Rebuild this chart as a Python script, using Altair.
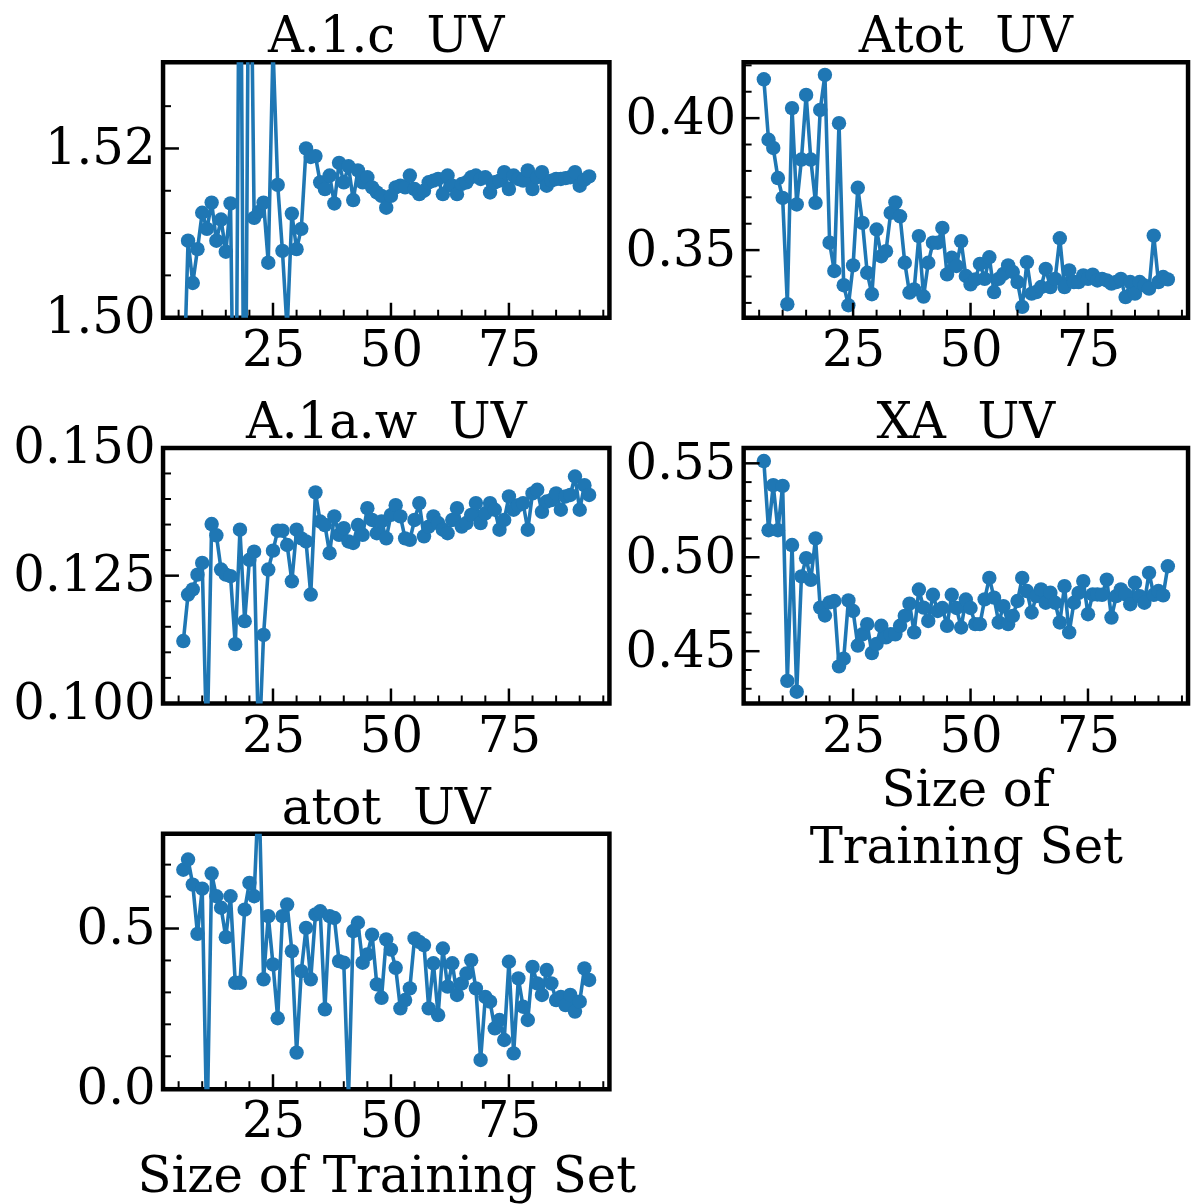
import altair as alt
import pandas as pd

# ---------------- data ----------------
sizes = list(range(6, 93))

a1c_uv = [1.490, 1.5091, 1.5041, 1.5081, 1.5124, 1.5105, 1.5136, 1.5091, 1.5116, 1.5078,
          1.5135, 1.470, 1.560, 1.470, 1.560, 1.5118, 1.5125, 1.5136, 1.5065, 1.5320,
          1.5157, 1.5079, 1.4985, 1.5123, 1.5081, 1.5105, 1.5200, 1.5190, 1.5191, 1.5160,
          1.5152, 1.5168, 1.5135, 1.5183, 1.5160, 1.5179, 1.5139, 1.5174, 1.5160, 1.5166,
          1.5154, 1.5148, 1.5144, 1.5130, 1.5144, 1.5154, 1.5156, 1.5154, 1.5168, 1.5152,
          1.5146, 1.5150, 1.5160, 1.5162, 1.5164, 1.5146, 1.5168, 1.5156, 1.5146, 1.5158,
          1.5160, 1.5166, 1.5168, 1.5164, 1.5166, 1.5148, 1.5160, 1.5162, 1.5172, 1.5152,
          1.5168, 1.5164, 1.5162, 1.5174, 1.5152, 1.5166, 1.5172, 1.5156, 1.5162, 1.5164,
          1.5164, 1.5165, 1.5166, 1.5172, 1.5156, 1.5163, 1.5167]

atot_upper_uv = [0.4147, 0.3918, 0.3887, 0.3773, 0.3698, 0.3295, 0.4038, 0.3673, 0.3843, 0.4088,
                 0.3843, 0.3679, 0.4031, 0.4164, 0.3528, 0.3421, 0.3981, 0.3367, 0.3291, 0.3442,
                 0.3736, 0.3603, 0.3414, 0.3333, 0.3578, 0.3477, 0.3496, 0.3641, 0.3681, 0.3628,
                 0.3452, 0.3339, 0.3351, 0.3553, 0.3324, 0.3452, 0.3528, 0.3528, 0.3584, 0.3408,
                 0.3471, 0.3440, 0.3534, 0.3402, 0.3370, 0.3389, 0.3448, 0.3391, 0.3473, 0.3341,
                 0.3391, 0.3410, 0.3442, 0.3417, 0.3379, 0.3285, 0.3454, 0.3335, 0.3341, 0.3360,
                 0.3429, 0.3360, 0.3391, 0.3545, 0.3360, 0.3423, 0.3379, 0.3379, 0.3404, 0.3391,
                 0.3407, 0.3385, 0.3391, 0.3385, 0.3373, 0.3379, 0.3391, 0.3322, 0.3379, 0.3335,
                 0.3379, 0.3366, 0.3354, 0.3555, 0.3379, 0.3398, 0.3389]

a1aw_uv = [0.1122, 0.1213, 0.1223, 0.1252, 0.1275, 0.0900, 0.1351, 0.1329, 0.1262, 0.1252,
           0.1249, 0.1116, 0.1340, 0.1161, 0.1281, 0.1297, 0.0900, 0.1134, 0.1262, 0.1299,
           0.1338, 0.1338, 0.1310, 0.1239, 0.1340, 0.1323, 0.1317, 0.1213, 0.1413, 0.1356,
           0.1349, 0.1294, 0.1366, 0.1330, 0.1343, 0.1317, 0.1314, 0.1349, 0.1330, 0.1382,
           0.1359, 0.1333, 0.1356, 0.1323, 0.1369, 0.1388, 0.1366, 0.1323, 0.1320, 0.1359,
           0.1392, 0.1327, 0.1346, 0.1366, 0.1353, 0.1340, 0.1333, 0.1359, 0.1382, 0.1346,
           0.1353, 0.1369, 0.1392, 0.1353, 0.1372, 0.1392, 0.1379, 0.1340, 0.1359, 0.1405,
           0.1379, 0.1388, 0.1392, 0.1340, 0.1411, 0.1418, 0.1375, 0.1395, 0.1398, 0.1411,
           0.1379, 0.1405, 0.1408, 0.1444, 0.1379, 0.1427, 0.1408]

xa_uv = [0.5512, 0.5144, 0.5384, 0.5144, 0.5380, 0.4342, 0.5065, 0.4284, 0.4898, 0.4995,
         0.4880, 0.5100, 0.4732, 0.4690, 0.4760, 0.4767, 0.4419, 0.4460, 0.4770, 0.4714,
         0.4530, 0.4590, 0.4644, 0.4490, 0.4539, 0.4635, 0.4574, 0.4590, 0.4590, 0.4635,
         0.4688, 0.4753, 0.4600, 0.4828, 0.4732, 0.4661, 0.4800, 0.4714, 0.4730, 0.4635,
         0.4800, 0.4730, 0.4626, 0.4775, 0.4730, 0.4644, 0.4644, 0.4776, 0.4890, 0.4785,
         0.4653, 0.4740, 0.4644, 0.4688, 0.4767, 0.4890, 0.4820, 0.4706, 0.4793, 0.4829,
         0.4758, 0.4811, 0.4758, 0.4653, 0.4846, 0.4600, 0.4758, 0.4810, 0.4873, 0.4697,
         0.4802, 0.4802, 0.4800, 0.4881, 0.4679, 0.4793, 0.4829, 0.4802, 0.4750, 0.4864,
         0.4793, 0.4758, 0.4917, 0.4800, 0.4820, 0.4797, 0.4952]

atot_lower_uv = [0.684, 0.716, 0.6375, 0.4833, 0.625, -0.150, 0.672, 0.601, 0.565, 0.473,
                 0.601, 0.330, 0.330, 0.559, 0.643, 0.601, 0.950, 0.341, 0.5385, 0.3875,
                 0.219, 0.5385, 0.575, 0.429, 0.1115, 0.3667, 0.502, 0.341, 0.544, 0.554,
                 0.247, 0.5385, 0.533, 0.398, 0.393, -0.030, 0.492, 0.518, 0.393, 0.419,
                 0.481, 0.325, 0.283, 0.466, 0.434, 0.377, 0.250, 0.276, 0.3125, 0.469,
                 0.458, 0.448, 0.250, 0.391, 0.229, 0.4375, 0.318, 0.391, 0.292, 0.328,
                 0.359, 0.401, 0.3125, 0.0885, 0.286, 0.271, 0.1875, 0.2135, 0.151, 0.396,
                 0.109, 0.344, 0.255, 0.2135, 0.380, 0.328, 0.292, 0.370, 0.328, 0.276,
                 0.286, 0.260, 0.292, 0.240, 0.271, 0.375, 0.339]

x_major = [25, 50, 75]
x_minor = [5, 10, 15, 20, 30, 35, 40, 45, 55, 60, 65, 70, 80, 85, 90, 95]

# ---------------- style ----------------
FONT = "DejaVu Serif"
FS = 50
BLUE = "#1f77b4"
H = 257
XDOM = [1.7, 96.3]


def panel(values, title, ydom, ymajor, yminor, fmt, w, yext, toff, xtitle=None):
    df = pd.DataFrame({"x": sizes, "y": values})
    xs = alt.Scale(domain=XDOM, nice=False, zero=False)
    ys = alt.Scale(domain=ydom, nice=False, zero=False)
    xaxis_kw = dict(values=x_major, ticks=False, domain=False, grid=False,
                    labelFont=FONT, labelFontSize=FS, labelColor="black",
                    labelPadding=8, labelFlush=False, labelOverlap=False, format="d")
    if xtitle is not None:
        xaxis_kw.update(title=xtitle, titleFont=FONT, titleFontSize=FS,
                        titleFontWeight="normal", titleColor="black",
                        titlePadding=5, titleLineHeight=57)
    else:
        xaxis_kw.update(title=None)
    xaxis = alt.Axis(**xaxis_kw)
    yaxis = alt.Axis(values=ymajor, ticks=False, domain=False, grid=False,
                     labelFont=FONT, labelFontSize=FS, labelColor="black",
                     labelPadding=8, labelOverlap=False, format=fmt,
                     title=None, minExtent=yext)
    base = alt.Chart(df).encode(
        x=alt.X("x:Q", scale=xs, axis=xaxis),
        y=alt.Y("y:Q", scale=ys, axis=yaxis),
    )
    line = base.mark_line(color=BLUE, strokeWidth=3.6, clip=True)
    pts = base.mark_circle(color=BLUE, size=210, opacity=1, clip=True)

    ymaj = alt.Chart(pd.DataFrame({"y": ymajor})).mark_rule(color="black", strokeWidth=2.5).encode(
        y=alt.Y("y:Q", scale=ys, axis=yaxis), x=alt.value(0), x2=alt.value(16))
    ymin = alt.Chart(pd.DataFrame({"y": yminor})).mark_rule(color="black", strokeWidth=2).encode(
        y=alt.Y("y:Q", scale=ys, axis=yaxis), x=alt.value(0), x2=alt.value(8))
    xmaj = alt.Chart(pd.DataFrame({"x": x_major})).mark_rule(color="black", strokeWidth=2.5).encode(
        x=alt.X("x:Q", scale=xs, axis=xaxis), y=alt.value(H), y2=alt.value(H - 15))
    xmin = alt.Chart(pd.DataFrame({"x": x_minor})).mark_rule(color="black", strokeWidth=2).encode(
        x=alt.X("x:Q", scale=xs, axis=xaxis), y=alt.value(H), y2=alt.value(H - 8))

    return alt.layer(line, pts, ymaj, ymin, xmaj, xmin).properties(
        width=w, height=H,
        title=alt.TitleParams(title, font=FONT, fontSize=FS, fontWeight="normal",
                              color="black", offset=toff, anchor="middle", frame="group"),
    )


p1 = panel(a1c_uv, "A.1.c\u00a0 UV", [1.50, 1.5302], [1.50, 1.52],
           [1.505, 1.51, 1.515, 1.525], ".2f", 449, 156, 0)
p2 = panel(atot_upper_uv, "Atot\u00a0 UV", [0.3244, 0.4212], [0.35, 0.40],
           [0.33, 0.34, 0.36, 0.37, 0.38, 0.39, 0.41, 0.42], ".2f", 447, 120, 0)
p3 = panel(a1aw_uv, "A.1a.w\u00a0 UV", [0.100, 0.150], [0.100, 0.125, 0.150],
           [0.105, 0.110, 0.115, 0.120, 0.130, 0.135, 0.140, 0.145], ".3f", 449, 156, -25)
p4 = panel(xa_uv, "XA\u00a0 UV", [0.4222, 0.5582], [0.45, 0.50, 0.55],
           [0.43, 0.44, 0.46, 0.47, 0.48, 0.49, 0.51, 0.52, 0.53, 0.54], ".2f", 447, 120, -9.5,
           xtitle=["Size of", "Training Set"])
p5 = panel(atot_lower_uv, "atot\u00a0 UV", [-0.003, 0.797], [0.0, 0.5],
           [0.1, 0.2, 0.3, 0.4, 0.6, 0.7], ".1f", 449, 156, 0,
           xtitle="Size of Training Set")

col1 = alt.vconcat(p1, p3, p5, spacing=17)
col2 = alt.vconcat(p2, p4, spacing=17)

chart = alt.hconcat(col1, col2, spacing=-17).properties(
    padding={"left": 5, "top": 6, "right": 5, "bottom": 0},
    background="white",
).configure_view(stroke="black", strokeWidth=4.5)

chart.save("out.html", embed_options={"renderer": "svg", "actions": False})
